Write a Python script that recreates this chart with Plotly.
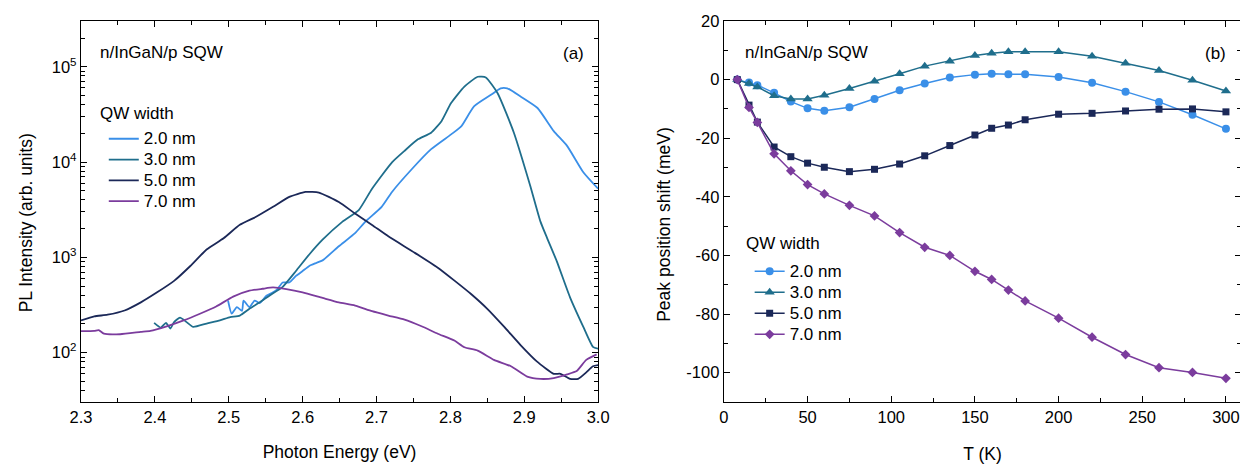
import plotly.graph_objects as go

FONT = "Arial, 'Liberation Sans', Helvetica, sans-serif"

widths = ["2.0 nm", "3.0 nm", "5.0 nm", "7.0 nm"]
colors = ["#3a8fe8", "#1f6e8c", "#1b2858", "#7b3c9d"]
symbols = ["circle", "triangle-up", "square", "diamond"]
msizes = [8, 9, 7, 7.5]

# ---------------- panel (a): PL spectra ----------------
e_20 = [2.499, 2.504, 2.511, 2.518, 2.520, 2.528, 2.535, 2.542, 2.551, 2.560, 2.566, 2.573,
        2.582, 2.591, 2.600, 2.609, 2.618, 2.627, 2.649, 2.671, 2.685, 2.707, 2.721, 2.748,
        2.774, 2.801, 2.815, 2.832, 2.855, 2.868, 2.877, 2.895, 2.918, 2.940, 2.958, 2.980, 3.000]
i_20 = [352, 256, 300, 275, 352, 300, 352, 330, 396, 429, 465, 545,
        545, 638, 719, 813, 871, 929, 1306, 1795, 2371, 3388, 4853, 8453,
        13650, 19500, 23820, 38370, 50700, 59430, 59430, 48750, 36900, 21130, 14790, 7816, 5248]

e_30 = [2.399, 2.408, 2.415, 2.421, 2.426, 2.434, 2.443, 2.452, 2.470, 2.488, 2.502, 2.515,
        2.528, 2.542, 2.555, 2.573, 2.591, 2.609, 2.627, 2.654, 2.676, 2.694, 2.721, 2.738,
        2.756, 2.774, 2.788, 2.801, 2.819, 2.837, 2.848, 2.864, 2.886, 2.908, 2.922, 2.931,
        2.944, 2.962, 2.980, 2.993, 3.000]
i_30 = [205, 183, 205, 179, 209, 233, 209, 186, 202, 218, 236, 245,
        288, 337, 396, 490, 719, 1072, 1531, 2371, 3133, 5248, 9931, 13120,
        17300, 20320, 26850, 41590, 61940, 78520, 77270, 52720, 20320, 5689, 2371, 1592,
        912, 380, 186, 115, 110]

e_50 = [2.300, 2.318, 2.336, 2.359, 2.381, 2.403, 2.426, 2.448, 2.470, 2.493, 2.515, 2.537,
        2.560, 2.582, 2.604, 2.622, 2.649, 2.671, 2.694, 2.716, 2.752, 2.783, 2.806, 2.828,
        2.850, 2.873, 2.895, 2.917, 2.940, 2.949, 2.962, 2.973, 2.984, 2.993, 3.000]
i_50 = [218, 240, 250, 277, 337, 429, 566, 811, 1208, 1585, 2193, 2661,
        3388, 4305, 4853, 4786, 3802, 2884, 2188, 1660, 1114, 778, 566, 412,
        288, 186, 120, 81, 60, 60, 53, 53, 62, 72, 74]

e_70 = [2.300, 2.318, 2.324, 2.331, 2.353, 2.381, 2.394, 2.416, 2.439, 2.461, 2.483, 2.506,
        2.528, 2.546, 2.560, 2.578, 2.600, 2.627, 2.649, 2.671, 2.694, 2.716, 2.738, 2.761,
        2.783, 2.806, 2.819, 2.837, 2.859, 2.882, 2.904, 2.922, 2.940, 2.958, 2.971, 2.984, 2.998]
i_70 = [168, 169, 172, 158, 156, 165, 169, 189, 218, 256, 305, 387,
        447, 468, 483, 465, 429, 375, 337, 312, 272, 245, 222, 189,
        158, 133, 114, 105, 84, 72, 56, 53, 54, 59, 64, 84, 96]

energies = [e_20, e_30, e_50, e_70]
intensities = [i_20, i_30, i_50, i_70]

# ---------------- panel (b): peak shift vs T ----------------
T = [8, 15, 20, 30, 40, 50, 60, 75, 90, 105, 120, 135, 150, 160, 170, 180, 200, 220, 240, 260, 280, 300]
shift_20 = [0, -1.0, -1.9, -4.5, -7.5, -9.8, -10.6, -9.4, -6.6, -3.6, -1.3, 0.7, 1.7, 2.0, 1.8, 1.8,
            0.9, -1.1, -4.1, -7.6, -12.0, -16.8]
shift_30 = [0, -1.3, -2.5, -5.5, -6.6, -6.6, -5.3, -3.0, -0.6, 2.0, 4.6, 6.3, 8.2, 9.0, 9.5, 9.5,
            9.5, 8.0, 5.6, 3.1, -0.2, -3.9]
shift_50 = [0, -8.7, -14.5, -23.0, -26.3, -28.5, -29.9, -31.4, -30.6, -28.8, -26.0, -22.5, -18.9,
            -16.6, -15.5, -13.7, -11.8, -11.5, -10.7, -10.1, -10.0, -11.0]
shift_70 = [0, -9.5, -14.6, -25.3, -31.1, -35.8, -39.0, -42.9, -46.5, -52.2, -57.2, -60.0, -65.4,
            -68.2, -71.8, -75.5, -81.4, -87.9, -93.8, -98.3, -99.9, -101.9]
shifts = [shift_20, shift_30, shift_50, shift_70]

# tick definitions
xa_ticks = [2.3, 2.4, 2.5, 2.6, 2.7, 2.8, 2.9, 3.0]
ya_ticks = [1e2, 1e3, 1e4, 1e5]
ya_text = ["10<sup>2</sup>", "10<sup>3</sup>", "10<sup>4</sup>", "10<sup>5</sup>"]
xb_ticks = [0, 50, 100, 150, 200, 250, 300]
yb_ticks = [-100, -80, -60, -40, -20, 0, 20]

fig = go.Figure()

for name, c, e, i in zip(widths, colors, energies, intensities):
    fig.add_trace(go.Scatter(
        x=e, y=i, mode="lines", name="<span style='font-size:17px'>" + name + "</span>",
        line=dict(color=c, width=1.8, shape="spline", smoothing=0.5),
        xaxis="x", yaxis="y", legend="legend"))

for name, c, s, ms, y in zip(widths, colors, symbols, msizes, shifts):
    fig.add_trace(go.Scatter(
        x=T, y=y, mode="lines+markers", name="<span style='font-size:17px'>" + name + "</span>",
        line=dict(color=c, width=1.5), marker=dict(symbol=s, size=ms, color=c),
        xaxis="x2", yaxis="y2", legend="legend2"))

# page geometry (the page shows the figure 8 px lower than its own origin)
OFF_X, OFF_Y = 0, 8
W, H = 1248 - OFF_X, 464 - OFF_Y
ML, MT = 73 - OFF_X, 17 - OFF_Y
MR = W - (1244 - OFF_X)
MB = H - (403 - OFF_Y)
PW, PH = W - ML - MR, H - MT - MB


def px(x):
    return (x - OFF_X - ML) / PW


def py(y):
    return (H - MB - (y - OFF_Y)) / PH


axis_common = dict(
    showline=True, linecolor="black", linewidth=1.4, mirror="ticks",
    ticks="inside", ticklen=6, tickwidth=1.2, tickcolor="black",
    showgrid=False, zeroline=False, ticklabeloverflow="allow",
    tickfont=dict(family=FONT, size=16.5, color="black"),
    title_font=dict(family=FONT, size=17.5, color="black"),
)

minor_log = [k * 10 ** d for d in range(1, 6) for k in range(2, 10)]
txt = dict(family=FONT, size=17, color="black")

fig.update_layout(
    width=W, height=H,
    margin=dict(l=ML, r=MR, t=MT, b=MB),
    paper_bgcolor="white", plot_bgcolor="white",
    font=dict(family=FONT, size=17, color="black"),
    xaxis=dict(axis_common, domain=[0, px(595)], range=[2.3, 3.0], anchor="y",
               tickmode="array", tickvals=xa_ticks, ticktext=[f"{v:.1f}" for v in xa_ticks],
               minor=dict(ticks="inside", ticklen=3.5, tickwidth=1.2, tickcolor="black",
                          dtick=0.05, tick0=2.3, showgrid=False),
               title=dict(text="Photon Energy (eV)", standoff=20)),
    yaxis=dict(axis_common, type="log", range=[1.482, 5.48], anchor="x",
               tickmode="array", tickvals=ya_ticks, ticktext=ya_text,
               minor=dict(ticks="inside", ticklen=3.5, tickwidth=1.2, tickcolor="black",
                          tickmode="array", tickvals=minor_log, showgrid=False)),
    xaxis2=dict(axis_common, domain=[px(722), 1.0], range=[0, 309], anchor="y2",
                tickmode="array", tickvals=xb_ticks, ticktext=[str(v) for v in xb_ticks],
                minor=dict(ticks="inside", ticklen=3.5, tickwidth=1.2, tickcolor="black",
                           dtick=25, tick0=0, showgrid=False),
                title=dict(text="T (K)", standoff=22)),
    yaxis2=dict(axis_common, range=[-110, 20], anchor="x2",
                tickmode="array", tickvals=yb_ticks, ticktext=[str(v) for v in yb_ticks],
                minor=dict(ticks="inside", ticklen=3.5, tickwidth=1.2, tickcolor="black",
                           dtick=10, tick0=0, showgrid=False)),
    legend=dict(x=px(96), y=py(120.7), xanchor="left", yanchor="top",
                bgcolor="rgba(0,0,0,0)", borderwidth=0,
                font=dict(family=FONT, size=13.7, color="black"),
                tracegroupgap=0),
    legend2=dict(x=px(748), y=py(254.7), xanchor="left", yanchor="top",
                 bgcolor="rgba(0,0,0,0)", borderwidth=0,
                 font=dict(family=FONT, size=13.9, color="black"),
                 tracegroupgap=0),
    showlegend=True,
    annotations=[
        dict(text="PL Intensity (arb. units)", x=px(17.5), y=py(222), xref="paper", yref="paper",
             xanchor="center", yanchor="middle", textangle=-90, showarrow=False,
             font=dict(family=FONT, size=17.5, color="black")),
        dict(text="Peak position shift (meV)", x=px(661.5), y=py(222.5), xref="paper", yref="paper",
             xanchor="center", yanchor="middle", textangle=-90, showarrow=False,
             font=dict(family=FONT, size=17.5, color="black")),
        dict(text="QW width", x=px(90), y=py(111), xref="paper", yref="paper",
             xanchor="left", yanchor="middle", showarrow=False, font=txt),
        dict(text="QW width", x=px(742), y=py(242.7), xref="paper", yref="paper",
             xanchor="left", yanchor="middle", showarrow=False, font=txt),
        dict(text="n/InGaN/p SQW", x=px(90), y=py(48.5), xref="paper", yref="paper",
             xanchor="left", yanchor="middle", showarrow=False, font=txt),
        dict(text="(a)", x=px(583), y=py(50), xref="paper", yref="paper",
             xanchor="right", yanchor="middle", showarrow=False, font=txt),
        dict(text="n/InGaN/p SQW", x=px(741), y=py(48.5), xref="paper", yref="paper",
             xanchor="left", yanchor="middle", showarrow=False, font=txt),
        dict(text="(b)", x=px(1231), y=py(50), xref="paper", yref="paper",
             xanchor="right", yanchor="middle", showarrow=False, font=txt),
    ],
)

fig.write_html("out.html")
